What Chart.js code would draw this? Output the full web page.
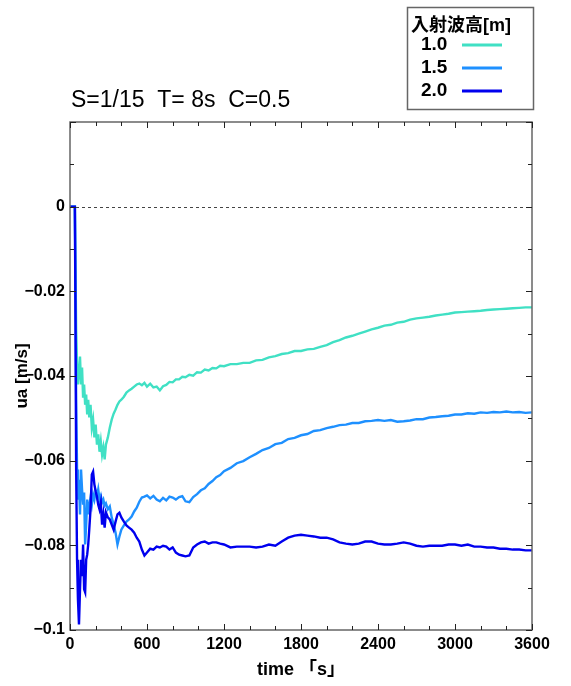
<!DOCTYPE html>
<html><head><meta charset="utf-8">
<script src="https://cdn.jsdelivr.net/npm/chart.js@4"></script>
<style>html,body{margin:0;padding:0;background:#fff;overflow:hidden}canvas{display:block}</style>
</head><body>
<canvas id="c" width="571" height="686"></canvas>
<script>
const times = [0,38,42,48,55,62,70,78,86,94,
102,110,118,126,134,142,150,160,170,180,
190,200,210,220,230,240,250,260,270,280,
295,310,325,340,355,370,385,400,420,440,
460,480,500,520,540,560,580,600,625,650,
675,700,725,750,775,800,825,850,875,900,
930,960,990,1020,1050,1080,1110,1140,1170,1200,
1250,1300,1350,1400,1450,1500,1550,1600,1650,1700,
1750,1800,1850,1900,1950,2000,2050,2100,2150,2200,
2250,2300,2350,2400,2450,2500,2550,2600,2650,2700,
2750,2800,2850,2900,2950,3000,3050,3100,3150,3200,
3250,3300,3350,3400,3450,3500,3550,3600];

const wave10 = [0,0,-0.0125,-0.029,-0.0373,-0.042,-0.039,-0.0354,-0.042,-0.038,
-0.0451,-0.042,-0.0468,-0.0444,-0.0491,-0.0456,-0.0498,-0.0468,-0.0522,-0.0503,
-0.0545,-0.0515,-0.0562,-0.0538,-0.0579,-0.0555,-0.0586,-0.0569,-0.0597,-0.0562,
-0.0545,-0.0522,-0.0503,-0.0489,-0.0479,-0.0468,-0.046,-0.0456,-0.0449,-0.0439,
-0.0434,-0.043,-0.0425,-0.042,-0.0418,-0.0422,-0.0416,-0.0425,-0.0418,-0.0427,
-0.0425,-0.0434,-0.0424,-0.0421,-0.0414,-0.0415,-0.0408,-0.0408,-0.0402,-0.0403,
-0.0397,-0.0399,-0.0391,-0.0392,-0.0385,-0.0387,-0.0381,-0.0382,-0.0376,-0.0377,
-0.0372,-0.0372,-0.0369,-0.0369,-0.0363,-0.0362,-0.0356,-0.0353,-0.0348,-0.0346,
-0.0341,-0.0341,-0.0337,-0.0336,-0.0331,-0.0327,-0.0320,-0.0315,-0.0309,-0.0305,
-0.0300,-0.0295,-0.0290,-0.0286,-0.0281,-0.0279,-0.0274,-0.0272,-0.0267,-0.0264,
-0.0262,-0.0260,-0.0257,-0.0255,-0.0253,-0.0250,-0.0249,-0.0248,-0.0247,-0.0246,
-0.0244,-0.0243,-0.0242,-0.0241,-0.0240,-0.0239,-0.0238,-0.0238];

const wave15 = [0,0,-0.0172,-0.0456,-0.0621,-0.0692,-0.0645,-0.0727,-0.0621,-0.0668,
-0.0704,-0.0675,-0.0798,-0.0751,-0.0692,-0.0727,-0.0708,-0.0687,-0.0704,-0.068,
-0.0692,-0.0673,-0.0685,-0.0668,-0.0692,-0.0683,-0.0699,-0.0692,-0.0706,-0.0701,
-0.0715,-0.0708,-0.0734,-0.0751,-0.077,-0.0798,-0.0779,-0.0763,-0.0753,-0.0744,
-0.0739,-0.0732,-0.072,-0.0711,-0.0697,-0.0687,-0.0685,-0.0682,-0.0689,-0.0683,
-0.0692,-0.0696,-0.0688,-0.0694,-0.0685,-0.0687,-0.0692,-0.0686,-0.0684,-0.0696,
-0.0698,-0.0686,-0.0679,-0.0670,-0.0665,-0.0655,-0.0648,-0.0639,-0.0634,-0.0625,
-0.0617,-0.0606,-0.0601,-0.0592,-0.0584,-0.0575,-0.0570,-0.0561,-0.0558,-0.0549,
-0.0546,-0.0540,-0.0537,-0.0530,-0.0528,-0.0523,-0.0520,-0.0516,-0.0515,-0.0511,
-0.0511,-0.0507,-0.0506,-0.0504,-0.0506,-0.0504,-0.0508,-0.0507,-0.0505,-0.0502,
-0.0502,-0.0498,-0.0497,-0.0495,-0.0494,-0.0491,-0.0491,-0.0488,-0.0489,-0.0486,
-0.0487,-0.0485,-0.0486,-0.0484,-0.0486,-0.0485,-0.0487,-0.0486];

const wave20 = [0,0,-0.022,-0.0621,-0.0834,-0.0928,-0.0987,-0.0904,-0.0834,-0.0873,
-0.0798,-0.0904,-0.0911,-0.0834,-0.0822,-0.0798,-0.0763,-0.0715,-0.0633,-0.0626,
-0.0656,-0.0673,-0.0685,-0.0704,-0.0715,-0.0699,-0.0751,-0.0727,-0.0758,-0.0722,
-0.0734,-0.0739,-0.0751,-0.0763,-0.0744,-0.0727,-0.0723,-0.0734,-0.0744,-0.0753,
-0.0758,-0.0763,-0.077,-0.0782,-0.0791,-0.081,-0.0824,-0.0817,-0.0808,-0.081,
-0.0803,-0.0805,-0.0801,-0.0803,-0.081,-0.0805,-0.0817,-0.0822,-0.0824,-0.0826,
-0.0824,-0.0805,-0.0798,-0.0793,-0.0791,-0.0796,-0.0793,-0.0793,-0.0796,-0.0798,
-0.0805,-0.0803,-0.0803,-0.0803,-0.0805,-0.0803,-0.0798,-0.0801,-0.0791,-0.0782,
-0.0777,-0.0775,-0.0777,-0.0779,-0.0782,-0.0782,-0.0786,-0.0793,-0.0796,-0.0798,
-0.0796,-0.0791,-0.0791,-0.0796,-0.0798,-0.0798,-0.0796,-0.0793,-0.0796,-0.0801,
-0.0803,-0.0801,-0.0801,-0.0801,-0.0798,-0.0798,-0.0801,-0.0798,-0.0803,-0.0803,
-0.0805,-0.0805,-0.0808,-0.0808,-0.081,-0.081,-0.0812,-0.0812];

const seriesLabels = ['1.0','1.5','2.0'];
const seriesColors = ['#40E0C4','#1E90FF','#0000EE'];
const chartTitle = 'S=1/15  T= 8s  C=0.5';
const legendTitle = '入射波高[m]';
const xTitle = 'time 「s」';
const yTitle = 'ua [m/s]';

const FONT = '"Liberation Sans", Arial, "Noto Sans CJK JP", sans-serif';

function pts(vals){ return times.map((t,i)=>({x:t,y:vals[i]})); }

const decor = {
  id:'decor',
  beforeDatasetsDraw(chart){
    const {ctx, chartArea:a, scales:{y}} = chart;
    const py = y.getPixelForValue(0);
    ctx.save();
    ctx.strokeStyle = '#444';
    ctx.lineWidth = 1;
    ctx.setLineDash([3,3]);
    ctx.beginPath(); ctx.moveTo(a.left, Math.round(py)+0.5); ctx.lineTo(a.right, Math.round(py)+0.5); ctx.stroke();
    ctx.restore();
  },
  afterDraw(chart){
    const {ctx, chartArea:a, scales:{x,y}} = chart;
    ctx.save();
    ctx.strokeStyle = '#666';
    ctx.lineWidth = 1.5;
    ctx.strokeRect(a.left, a.top, a.right-a.left, a.bottom-a.top);
    ctx.lineWidth = 1;
    ctx.strokeStyle = '#222';
    ctx.beginPath();
    for (let v=0; v<=3600; v+=200){
      const px = Math.round(x.getPixelForValue(v))+0.5;
      const len = v%600===0 ? 6 : 4;
      ctx.moveTo(px, a.bottom); ctx.lineTo(px, a.bottom-len);
      ctx.moveTo(px, a.top); ctx.lineTo(px, a.top+len);
    }
    for (let k=-10; k<=2; k++){
      const py = Math.round(y.getPixelForValue(k/100))+0.5;
      const len = k%2===0 ? 6 : 4;
      ctx.moveTo(a.left, py); ctx.lineTo(a.left+len, py);
      ctx.moveTo(a.right, py); ctx.lineTo(a.right-len, py);
    }
    ctx.stroke();

    // title
    ctx.fillStyle = '#000';
    ctx.font = '23px ' + FONT;
    ctx.textAlign = 'left';
    ctx.textBaseline = 'alphabetic';
    ctx.fillText(chartTitle, 71, 107);

    // legend box
    ctx.strokeStyle = '#666';
    ctx.lineWidth = 1.5;
    ctx.strokeRect(407.5, 7.5, 126, 102);
    ctx.font = 'bold 18px ' + FONT;
    ctx.fillText(legendTitle, 411, 31);
    const rows = [45, 68, 91];
    chart.data.datasets.forEach((ds,i)=>{
      ctx.font = 'bold 19px ' + FONT;
      ctx.textBaseline = 'middle';
      ctx.fillStyle = '#000';
      ctx.fillText(ds.label, 421, rows[i]);
      ctx.strokeStyle = ds.borderColor;
      ctx.lineWidth = 3;
      ctx.beginPath(); ctx.moveTo(462, rows[i]); ctx.lineTo(502, rows[i]); ctx.stroke();
    });
    ctx.restore();
  }
};

new Chart(document.getElementById('c'), {
  type:'line',
  data:{
    datasets:[
      {label:seriesLabels[0], data:pts(wave10), borderColor:seriesColors[0], order:3},
      {label:seriesLabels[1], data:pts(wave15), borderColor:seriesColors[1], order:2},
      {label:seriesLabels[2], data:pts(wave20), borderColor:seriesColors[2], order:1}
    ]
  },
  options:{
    responsive:false,
    animation:false,
    events:[],
    layout:{padding:{left:0,right:39,top:122,bottom:0}},
    elements:{line:{borderWidth:2.4, tension:0}, point:{radius:0}},
    plugins:{legend:{display:false}, tooltip:{enabled:false}, title:{display:false}},
    scales:{
      x:{
        type:'linear', min:0, max:3600,
        afterFit(s){ s.height = 56; },
        grid:{display:false, drawTicks:false},
        border:{display:false},
        ticks:{stepSize:600, padding:5, color:'#000', font:{family:FONT, size:16, weight:'bold'}, maxRotation:0, autoSkip:false,
          callback(v){ return String(Math.round(v)); }},
        title:{display:true, text:xTitle, color:'#000', font:{family:FONT, size:18, weight:'bold'}, padding:{top:0,bottom:5}}
      },
      y:{
        type:'linear', min:-0.1, max:0.02,
        afterFit(s){ s.width = 70; },
        grid:{display:false, drawTicks:false},
        border:{display:false},
        ticks:{stepSize:0.02, padding:5, color:'#000', font:{family:FONT, size:16, weight:'bold'}, autoSkip:false,
          callback(v){
            const r = Math.round(v*100)/100;
            if (r > 0.001) return '';
            if (r === 0) return '0';
            return (r<0?'\u2212':'') + String(parseFloat(Math.abs(r).toFixed(2)));
          }},
        title:{display:true, text:yTitle, color:'#000', font:{family:FONT, size:17, weight:'bold'}, padding:{top:12,bottom:0}}
      }
    }
  },
  plugins:[decor]
});
</script>
</body></html>
